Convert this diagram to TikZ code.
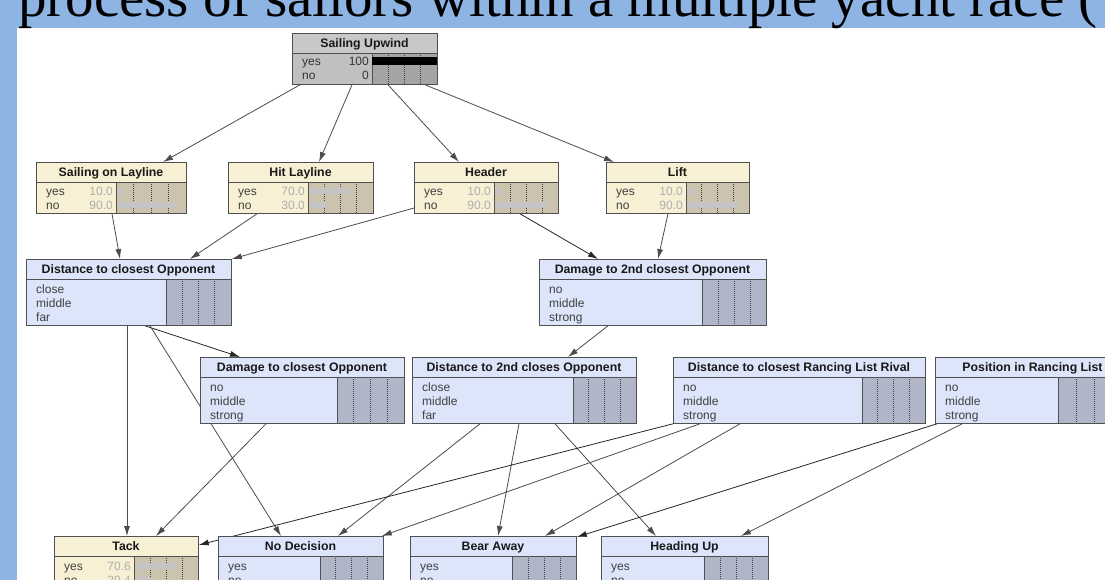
\documentclass[tikz,border=0pt]{standalone}
\usepackage{fontspec}
\setmainfont{Liberation Sans}
\newfontfamily\titleserif{Liberation Serif}
\usetikzlibrary{arrows.meta,calc}
\definecolor{bgblue}{HTML}{8EB4E3}
\definecolor{beigehead}{HTML}{F8F0D4}
\definecolor{beigebody}{HTML}{F8F0D4}
\definecolor{beigechart}{HTML}{CCC3AE}
\definecolor{bluehead}{HTML}{DCE5FA}
\definecolor{bluebody}{HTML}{DCE5FA}
\definecolor{bluechart}{HTML}{B0B6C8}
\definecolor{grayhead}{HTML}{C8C8C8}
\definecolor{graybody}{HTML}{C0C0C0}
\definecolor{graychart}{HTML}{A4A4A4}
\definecolor{framecol}{HTML}{505050}
\definecolor{edgecol}{HTML}{4C4C4C}
\definecolor{statecol}{HTML}{404040}
\definecolor{valcol}{HTML}{ADADAD}
\definecolor{barcol}{HTML}{C4C4C4}
\pgfdeclarelayer{back}
\pgfdeclarelayer{edges}
\pgfsetlayers{back,edges,main}
\tikzset{
  boxframe/.style={draw=framecol, line width=0.8pt, inner sep=0pt, anchor=north west, fill=none},
  sepline/.style={draw=framecol, line width=0.8pt},
  gridline/.style={draw=statecol, line width=0.6pt, dash pattern=on 1pt off 1pt},
  titletext/.style={font=\fontsize{12.3}{13}\selectfont\bfseries, text=black!90, inner sep=0pt, text height=11pt, text depth=2pt},
  statetext/.style={font=\fontsize{12}{13}\selectfont, text=statecol, inner sep=0pt, anchor=west, text height=11pt, text depth=2pt},
  valtext/.style={font=\fontsize{12}{13}\selectfont, text=valcol, inner sep=0pt, anchor=east, text height=11pt, text depth=2pt},
  link/.style={draw=edgecol, line width=0.8pt, -{Latex[length=10pt,width=6pt]}},
  darklink/.style={link, draw=black!85},
}
% #1 name, #2 kind, #3 x1, #4 y1, #5 x2, #6 y2, #7 chart x, #8 title
\newcommand\netnode[8]{%
  \fill[#2body] (#3,#4) rectangle (#5,#6);
  \fill[#2head] (#3,#4) rectangle (#5,#4+20);
  \fill[#2chart] (#7,#4+20) rectangle (#5,#6);
  \foreach \k in {1,2,3}{\draw[gridline] ({#7+\k*(#5-#7)/4},#4+20) -- ({#7+\k*(#5-#7)/4},#6);}
  \draw[sepline] (#3,#4+20) -- (#5,#4+20);
  \draw[sepline] (#7,#4+20) -- (#7,#6);
  \node[boxframe, minimum width={(#5-#3)*1pt}, minimum height={(#6-#4)*1pt}] (#1) at (#3,#4) {};
  \node[titletext] at ({(#3+#5)/2},#4+10) {#8};
}
% #1 x1, #2 chart x, #3 chart x2, #4 y, #5 state, #6 value, #7 fraction
\newcommand\staterow[7]{%
  \node[statetext] at (#1+10,#4) {#5};
  \node[valtext] at (#2-3,#4) {#6};
  \fill[barcol] (#2+1,#4-3) rectangle ({#2+1+#7*(#3-#2-6)},#4+3);
}
\newcommand\plainrows[3]{% x1, y1(top of body), list
  \foreach \s [count=\i] in {#3}{\node[statetext] at (#1+10,{#2+8.5+(\i-1)*14.3}) {\s};}
}
\begin{document}
\begin{tikzpicture}[x=1pt,y=-1pt]
\useasboundingbox (0,0) rectangle (1105,580);
\clip (0,0) rectangle (1105,580);
\begin{pgfonlayer}{back}
\fill[bgblue] (0,0) rectangle (1105,580);
\fill[white] (17,28) rectangle (1105,580);
\end{pgfonlayer}
\node[anchor=base west, inner sep=0pt, font=\titleserif\fontsize{57}{60}\selectfont] (title) at (18,17) {process of sailors within a multiple yacht race (};

% top node
\netnode{su}{gray}{292}{33}{437}{84}{372}{Sailing Upwind}
\node[statetext, text=black!80] at (302,61) {yes};
\node[statetext, text=black!80] at (302,75) {no};
\node[valtext, text=black!80] at (369,61) {100};
\node[valtext, text=black!80] at (369,75) {0};
\fill[black] (372,57) rectangle (437,65);

% second row
\netnode{sol}{beige}{36}{162}{186}{213}{116}{Sailing on Layline}
\staterow{36}{116}{186}{191}{yes}{10.0}{0.1}
\staterow{36}{116}{186}{205}{no}{90.0}{0.9}
\netnode{hit}{beige}{228}{162}{373}{213}{308}{Hit Layline}
\staterow{228}{308}{373}{191}{yes}{70.0}{0.7}
\staterow{228}{308}{373}{205}{no}{30.0}{0.3}
\netnode{hdr}{beige}{414}{162}{558}{213}{494}{Header}
\staterow{414}{494}{558}{191}{yes}{10.0}{0.1}
\staterow{414}{494}{558}{205}{no}{90.0}{0.9}
\netnode{lift}{beige}{606}{162}{749}{213}{686}{Lift}
\staterow{606}{686}{749}{191}{yes}{10.0}{0.1}
\staterow{606}{686}{749}{205}{no}{90.0}{0.9}

% third row
\netnode{dco}{blue}{26}{259}{231}{325}{166}{Distance to closest Opponent}
\plainrows{26}{280}{close,middle,far}
\netnode{dtwo}{blue}{539}{259}{766}{325}{702}{Damage to 2nd closest Opponent}
\plainrows{539}{280}{no,middle,strong}

% fourth row
\netnode{dmg}{blue}{200}{357}{404}{423}{337}{Damage to closest Opponent}
\plainrows{200}{378}{no,middle,strong}
\netnode{dist}{blue}{412}{357}{636}{423}{573}{Distance to 2nd closes Opponent}
\plainrows{412}{378}{close,middle,far}
\netnode{riv}{blue}{673}{357}{925}{423}{862}{Distance to closest Rancing List Rival}
\plainrows{673}{378}{no,middle,strong}
\netnode{pos}{blue}{935}{357}{1130}{423}{1058}{Position in Rancing List}
\plainrows{935}{378}{no,middle,strong}

% bottom row
\netnode{tack}{beige}{54}{536}{198}{600}{134}{Tack}
\staterow{54}{134}{198}{566}{yes}{70.6}{0.706}
\staterow{54}{134}{198}{580}{no}{29.4}{0.294}
\netnode{nod}{blue}{218}{536}{383}{600}{320}{No Decision}
\plainrows{218}{557}{yes,no}
\netnode{bear}{blue}{410}{536}{576}{600}{512}{Bear Away}
\plainrows{410}{557}{yes,no}
\netnode{head}{blue}{601}{536}{768}{600}{704}{Heading Up}
\plainrows{601}{557}{yes,no}

\begin{pgfonlayer}{edges}
\draw[link] ($(su.south west)+(8,0)$) -- ($(sol.north west)+(127,0)$);
\draw[link] ($(su.south west)+(60,0)$) -- ($(hit.north west)+(91,0)$);
\draw[link] ($(su.south west)+(96,0)$) -- ($(hdr.north west)+(45,0)$);
\draw[link] ($(su.south west)+(133,0)$) -- ($(lift.north west)+(8,0)$);

\draw[link] ($(sol.south west)+(76,0)$) -- ($(dco.north west)+(94,0)$);
\draw[link] ($(hit.south west)+(29,0)$) -- ($(dco.north west)+(164,0)$);
\draw[link] ($(hdr.north west)+(0,46)$) -- (dco.north east);
\draw[darklink] ($(hdr.south west)+(106,0)$) -- ($(dtwo.north west)+(59,0)$);
\draw[link] ($(lift.south west)+(62,0)$) -- ($(dtwo.north west)+(119,0)$);

\draw[darklink] ($(dco.south west)+(119,0)$) -- ($(dmg.north west)+(40,0)$);
\draw[link] ($(dtwo.south west)+(69,0)$) -- ($(dist.north west)+(156,0)$);

\draw[link] ($(dco.south west)+(101,0)$) -- ($(tack.north west)+(73,0)$);
\draw[link] ($(dco.south west)+(124,0)$) -- ($(nod.north west)+(63,0)$);
\draw[link] ($(dmg.south west)+(66,0)$) -- ($(tack.north west)+(102,0)$);
\draw[link] ($(dist.south west)+(68,0)$) -- ($(nod.north west)+(120,0)$);
\draw[link] ($(dist.south west)+(107,0)$) -- ($(bear.north west)+(88,0)$);
\draw[link] ($(dist.south west)+(143,0)$) -- ($(head.north west)+(55,0)$);
\draw[darklink] (riv.south west) -- ($(tack.north east)+(0,9)$);
\draw[link] ($(riv.south west)+(27,0)$) -- ($(nod.north east)+(-2,0)$);
\draw[link] ($(riv.south west)+(67,0)$) -- ($(bear.north west)+(135,0)$);
\draw[darklink] ($(pos.south west)+(2,0)$) -- ($(bear.north east)+(0,1)$);
\draw[link] ($(pos.south west)+(27,0)$) -- ($(head.north west)+(140,0)$);
\end{pgfonlayer}
\end{tikzpicture}
\end{document}
